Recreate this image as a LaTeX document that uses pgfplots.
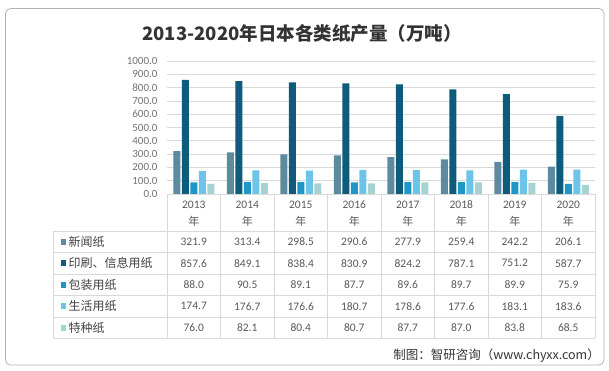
\documentclass[border=0pt]{standalone}
\usepackage{fontspec}
\setmainfont{Carlito}
\newfontfamily\cjk{Noto Sans CJK SC}
\usepackage{pgfplots}
\pgfplotsset{compat=1.18}
\usepackage{pgfplotstable}

\definecolor{cA}{HTML}{5D8A9E}
\definecolor{cB}{HTML}{0E5B7C}
\definecolor{cC}{HTML}{1F96C8}
\definecolor{cD}{HTML}{6CC5E9}
\definecolor{cE}{HTML}{A7D2D2}
\definecolor{gridc}{HTML}{D9D9D9}
\definecolor{txt}{HTML}{595959}

\pgfplotstableread{
x xinwen yinshua baozhuang shenghuo tezhong
0 321.9 857.6 88.0 174.7 76.0
1 313.4 849.1 90.5 176.7 82.1
2 298.5 838.4 89.1 176.6 80.4
3 290.6 830.9 87.7 180.7 80.7
4 277.9 824.2 89.6 178.6 87.7
5 259.4 787.1 89.7 177.6 87.0
6 242.2 751.2 89.9 183.1 83.8
7 206.1 587.7 75.9 183.6 68.5
}\datatable

\begin{document}
\begin{tikzpicture}[x=1pt,y=1pt]
\path (0,0) rectangle (609,371);
\draw[rounded corners=5pt, color=black!30, line width=0.8pt] (5.5,6) rectangle (604,362.5);
\node[font=\cjk\bfseries\fontsize{18.5}{22}\selectfont, text=black!80] at (302,337) {2013-2020年日本各类纸产量（万吨）};

\begin{axis}[at={(167pt,177pt)}, anchor=south west, scale only axis,
  width=428pt, height=133pt,
  xmin=-0.5, xmax=7.5, ymin=0, ymax=1000,
  ybar=1.5pt, bar width=7pt,
  ytick={0,100,...,1000}, xtick=\empty,
  ymajorgrids, grid style={gridc, line width=0.6pt},
  axis line style={draw=none}, major tick style={draw=none},
  yticklabel style={font=\fontsize{11}{12}\selectfont, text=black!55, xshift=-6pt},
  /pgf/number format/.cd, fixed, fixed zerofill, precision=1, 1000 sep={}, assume math mode=true]
\addplot[fill=cA, draw=none] table[x=x, y=xinwen] {\datatable};
\addplot[fill=cB, draw=none] table[x=x, y=yinshua] {\datatable};
\addplot[fill=cC, draw=none] table[x=x, y=baozhuang] {\datatable};
\addplot[fill=cD, draw=none] table[x=x, y=shenghuo] {\datatable};
\addplot[fill=cE, draw=none] table[x=x, y=tezhong] {\datatable};
\end{axis}

% data table grid
\begin{scope}[gridc, line width=0.7pt]
\draw (167,177) -- (595,177);
\foreach \yy in {140,118.5,97,75.5,54,32.5} \draw (53,\yy) -- (595,\yy);
\draw (53,140) -- (53,32.5);
\foreach \k in {0,...,8} \draw (167+\k*53.5,177) -- (167+\k*53.5,32.5);
\end{scope}

\foreach \yr [count=\i from 0] in {2013,2014,2015,2016,2017,2018,2019,2020} {
  \node[font=\fontsize{11.5}{12}\selectfont, text=txt] at (193.75+\i*53.5,166) {\yr};
  \node[font=\cjk\fontsize{11}{12}\selectfont, text=txt] at (193.75+\i*53.5,149.5) {年};
}

\foreach \lab/\col/\yy in {新闻纸/cA/129.25, 印刷、信息用纸/cB/107.75, 包装用纸/cC/86.25, 生活用纸/cD/64.75, 特种纸/cE/43.25} {
  \fill[\col] (60.5,\yy-2.8) rectangle (66,\yy+2.8);
  \node[anchor=west, font=\cjk\fontsize{12}{13}\selectfont, text=black!75, inner sep=0pt] at (68.5,\yy) {\lab};
}

\foreach \row/\yy in {{321.9,313.4,298.5,290.6,277.9,259.4,242.2,206.1}/129.25,
                      {857.6,849.1,838.4,830.9,824.2,787.1,751.2,587.7}/107.75,
                      {88.0,90.5,89.1,87.7,89.6,89.7,89.9,75.9}/86.25,
                      {174.7,176.7,176.6,180.7,178.6,177.6,183.1,183.6}/64.75,
                      {76.0,82.1,80.4,80.7,87.7,87.0,83.8,68.5}/43.25} {
  \foreach \v [count=\i from 0] in \row {
    \node[font=\fontsize{11.5}{12}\selectfont, text=txt] at (193.75+\i*53.5,\yy) {\v};
  }
}

\node[anchor=east, font=\cjk\fontsize{12.5}{14}\selectfont, text=black!80, inner sep=0pt] at (600,15.5) {制图：智研咨询（www.chyxx.com）};
\end{tikzpicture}
\end{document}
